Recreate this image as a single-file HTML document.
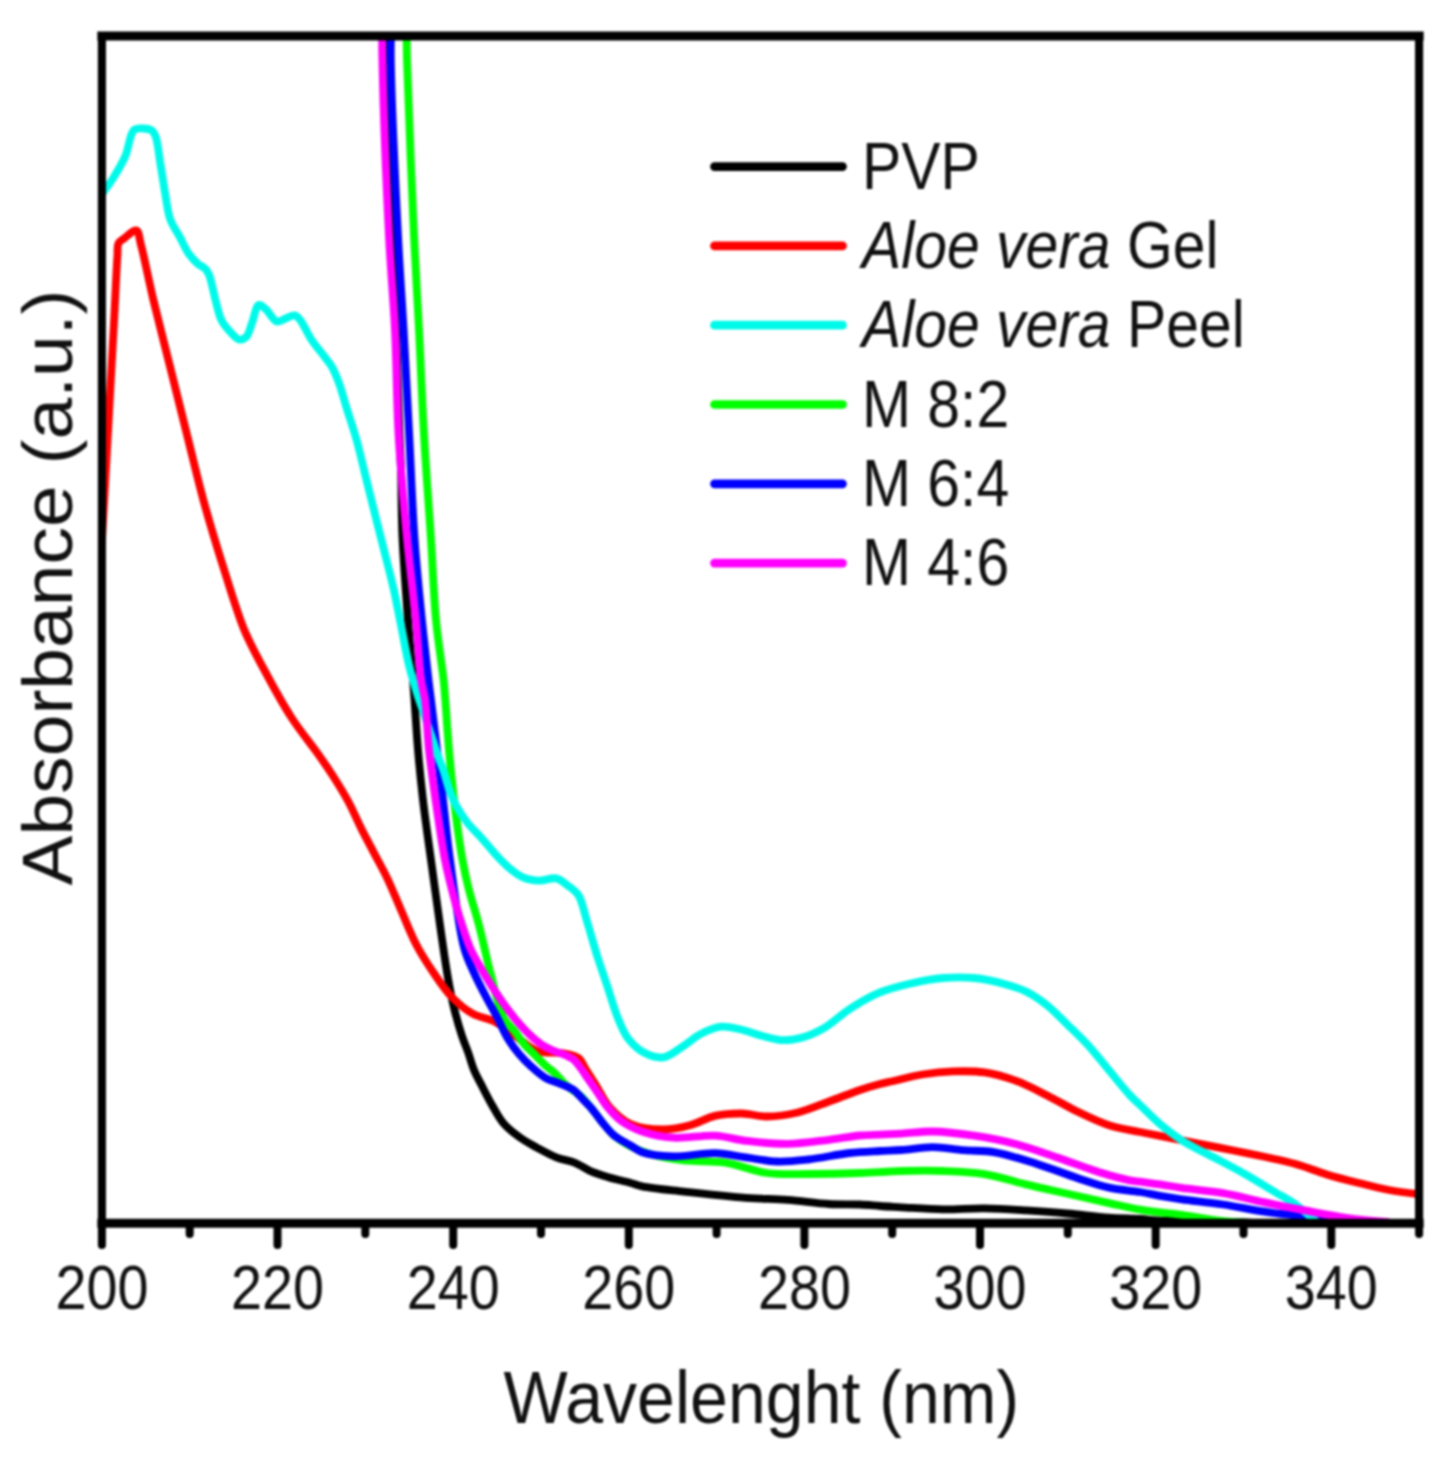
<!DOCTYPE html>
<html><head><meta charset="utf-8"><style>
html,body{margin:0;padding:0;background:#fff;}
svg{display:block;filter:blur(1px);}
text{font-family:"Liberation Sans",sans-serif;fill:#111;}
</style></head><body>
<svg width="1446" height="1484" viewBox="0 0 1446 1484">
<rect width="1446" height="1484" fill="#fff"/>
<defs><clipPath id="pa"><rect x="101.9" y="36.0" width="1317.2" height="1187.3"/></clipPath></defs>
<g fill="none" stroke-width="7.8" stroke-linejoin="round" stroke-linecap="butt" clip-path="url(#pa)">
<path d="M386.0,36.0 C386.0,36.0 387.2,74.7 388.0,100.0 C389.1,136.9 390.5,194.8 392.0,236.0 C393.2,270.2 394.8,297.8 396.0,330.0 C397.3,364.0 398.5,409.4 399.5,435.0 C400.1,449.8 400.6,456.4 401.0,470.0 C401.6,488.9 401.4,514.3 402.5,538.0 C403.7,564.1 406.1,594.8 408.0,620.0 C409.6,641.6 411.8,665.4 413.0,680.0 C413.7,688.5 413.9,691.8 414.5,700.0 C415.4,712.9 416.6,733.3 418.0,750.0 C419.4,766.7 421.0,782.6 423.0,800.0 C425.2,819.1 428.2,839.6 431.0,860.0 C433.9,881.2 437.1,904.6 440.0,925.0 C442.6,943.1 445.1,961.3 447.7,976.3 C449.7,988.0 451.5,997.4 453.9,1007.5 C456.3,1017.3 459.3,1027.9 462.0,1036.0 C464.0,1042.1 466.0,1046.5 468.0,1052.0 C470.1,1057.8 471.6,1064.1 474.0,1070.0 C476.5,1076.1 480.0,1082.1 483.0,1088.0 C486.0,1093.8 488.7,1099.3 492.0,1105.0 C495.4,1111.0 498.6,1117.6 503.2,1123.0 C507.9,1128.5 514.1,1133.3 519.8,1137.4 C525.2,1141.3 530.6,1144.1 536.4,1147.3 C542.7,1150.7 549.6,1154.7 556.3,1157.3 C562.5,1159.8 569.1,1160.4 575.1,1162.8 C580.9,1165.2 586.1,1169.3 591.7,1171.7 C597.1,1174.0 602.4,1175.5 608.3,1177.2 C615.0,1179.2 623.8,1181.0 630.0,1182.7 C634.7,1184.0 636.9,1185.3 642.2,1186.4 C651.9,1188.5 668.5,1189.9 683.7,1191.6 C702.4,1193.7 727.3,1196.4 746.0,1197.8 C761.2,1198.9 773.7,1198.9 787.5,1199.9 C801.3,1200.9 816.2,1203.3 829.0,1204.0 C840.1,1204.6 850.8,1204.1 860.0,1204.5 C867.4,1204.8 873.2,1205.5 880.0,1206.0 C887.0,1206.5 893.2,1206.8 901.5,1207.3 C913.1,1207.9 929.2,1209.1 943.0,1209.3 C956.8,1209.5 970.7,1208.1 984.5,1208.3 C998.3,1208.5 1012.2,1209.5 1026.0,1210.4 C1039.8,1211.3 1053.7,1212.3 1067.5,1213.5 C1081.3,1214.7 1096.2,1216.7 1109.0,1217.6 C1120.1,1218.4 1130.8,1218.4 1140.0,1219.0 C1147.4,1219.5 1152.1,1220.3 1160.0,1220.7 C1171.5,1221.2 1186.8,1220.8 1202.2,1221.1 C1221.0,1221.5 1246.6,1222.8 1264.5,1223.2 C1278.0,1223.5 1300.0,1223.5 1300.0,1223.5" stroke="#000000"/>
<path d="M100.8,562.0 C100.8,562.0 102.9,523.3 104.0,504.0 C105.1,484.7 106.1,465.7 107.2,446.0 C108.3,425.7 109.5,404.7 110.6,384.0 C111.7,363.3 112.9,343.0 114.0,322.0 C115.2,300.3 116.4,269.5 117.4,256.0 C117.8,250.0 117.0,246.0 118.6,243.0 C119.8,240.8 121.8,240.1 124.0,238.5 C127.2,236.1 133.5,229.5 136.3,230.5 C139.2,231.5 139.2,238.6 141.0,245.0 C144.4,257.4 148.8,280.8 153.4,300.0 C158.5,321.3 164.6,344.9 170.2,367.3 C175.8,389.8 181.4,412.2 187.0,434.7 C192.6,457.1 197.8,479.6 203.9,502.0 C210.1,524.5 217.1,547.6 224.0,569.4 C230.6,590.2 236.9,612.1 244.3,630.0 C250.6,645.1 257.1,656.5 264.5,670.4 C272.6,685.6 282.0,703.0 291.4,717.5 C300.0,730.8 310.8,743.8 318.4,754.5 C324.1,762.6 328.2,768.5 333.0,776.0 C338.1,784.0 343.3,792.2 348.0,801.0 C353.0,810.2 357.4,820.9 362.0,830.0 C366.1,838.1 369.9,845.1 374.0,853.0 C378.4,861.4 383.2,869.7 387.5,878.8 C392.2,888.6 396.3,899.3 401.0,910.0 C406.0,921.4 410.9,934.4 416.6,945.2 C421.7,955.0 427.3,963.5 433.2,972.2 C439.1,980.8 445.0,990.0 451.9,997.1 C458.2,1003.7 465.2,1009.5 472.6,1013.7 C479.7,1017.7 488.2,1018.3 495.4,1022.0 C502.8,1025.8 509.3,1031.7 516.2,1036.5 C523.1,1041.3 529.3,1048.2 536.9,1051.0 C544.5,1053.7 554.4,1051.7 561.8,1053.1 C568.0,1054.3 574.4,1055.1 578.4,1058.0 C581.7,1060.4 582.6,1064.2 585.0,1068.0 C588.1,1072.8 591.8,1078.6 595.5,1084.5 C599.7,1091.3 603.3,1100.0 609.0,1106.5 C614.9,1113.2 622.0,1120.2 630.5,1124.0 C639.8,1128.2 652.7,1129.3 663.0,1129.4 C672.4,1129.4 681.3,1127.5 690.0,1125.2 C698.6,1123.0 706.3,1117.9 714.9,1115.9 C723.6,1113.9 733.0,1113.4 741.8,1113.5 C750.3,1113.6 757.9,1116.5 766.7,1116.5 C776.5,1116.5 787.6,1114.9 797.8,1112.5 C808.3,1110.0 818.6,1105.3 829.0,1101.5 C839.4,1097.8 850.7,1093.1 860.0,1090.0 C867.4,1087.5 874.3,1085.5 880.0,1084.0 C884.2,1082.9 886.4,1082.5 891.0,1081.5 C898.7,1079.8 911.7,1076.2 922.2,1074.5 C932.5,1072.8 943.0,1071.7 953.4,1071.4 C963.8,1071.1 974.2,1070.9 984.5,1072.4 C995.0,1073.9 1005.4,1077.0 1015.6,1080.7 C1026.1,1084.5 1036.4,1090.1 1046.7,1095.2 C1057.1,1100.4 1067.3,1106.7 1077.8,1111.8 C1088.1,1116.8 1098.4,1121.9 1109.0,1125.3 C1119.2,1128.6 1129.6,1129.9 1140.0,1132.0 C1150.3,1134.1 1160.7,1136.1 1171.1,1138.1 C1181.5,1140.2 1191.8,1142.2 1202.2,1144.3 C1212.6,1146.4 1223.0,1148.4 1233.4,1150.5 C1243.8,1152.6 1254.1,1154.6 1264.5,1156.8 C1274.9,1159.1 1285.3,1161.1 1295.6,1164.0 C1306.0,1166.9 1316.3,1171.3 1326.7,1174.4 C1337.0,1177.5 1347.4,1180.1 1357.8,1182.7 C1368.2,1185.3 1378.7,1188.1 1389.0,1190.0 C1398.8,1191.8 1418.0,1194.1 1418.0,1194.1" stroke="#ff0000"/>
<path d="M406.6,36.0 C406.6,36.0 406.7,48.3 407.0,60.0 C407.9,91.6 411.7,186.5 414.0,236.0 C415.7,272.2 417.4,297.8 419.0,330.0 C420.7,364.0 422.0,400.0 424.0,435.0 C426.0,470.0 428.9,507.4 431.0,540.0 C432.8,568.5 433.7,595.3 436.0,620.0 C438.0,641.5 442.0,665.3 443.6,680.0 C444.5,688.4 444.7,691.8 445.3,700.0 C446.3,712.9 447.6,733.3 449.0,750.0 C450.5,766.7 451.9,782.6 454.0,800.0 C456.3,819.1 459.5,843.5 462.5,860.0 C464.6,871.8 466.4,879.7 469.0,890.0 C471.8,901.1 475.5,911.8 478.8,924.5 C482.9,940.0 486.9,960.0 491.3,976.3 C495.3,991.1 498.7,1008.8 503.8,1018.3 C506.9,1024.1 510.8,1026.4 514.2,1030.7 C517.7,1035.2 521.0,1040.4 524.6,1044.6 C527.9,1048.4 531.5,1051.5 535.0,1055.0 C538.4,1058.4 541.8,1062.1 545.3,1065.3 C548.7,1068.4 552.3,1070.8 555.7,1074.0 C559.2,1077.4 562.1,1081.5 566.0,1085.0 C570.3,1088.9 576.2,1092.0 580.6,1096.0 C584.8,1099.9 588.1,1104.2 591.7,1108.6 C595.5,1113.2 599.0,1118.5 602.8,1123.0 C606.4,1127.3 609.5,1131.5 613.8,1135.2 C618.5,1139.2 624.1,1142.9 630.0,1146.0 C636.2,1149.2 642.3,1151.8 650.0,1154.0 C659.7,1156.8 671.8,1159.1 683.7,1160.5 C696.8,1162.1 711.5,1160.6 725.2,1162.6 C739.1,1164.7 752.8,1171.1 766.7,1173.0 C780.4,1174.9 793.6,1174.0 808.2,1174.0 C824.5,1174.0 843.7,1173.6 860.0,1173.0 C874.6,1172.5 887.7,1171.3 901.5,1171.0 C915.3,1170.7 929.2,1170.5 943.0,1171.0 C956.8,1171.5 970.8,1171.9 984.5,1174.1 C998.4,1176.3 1012.1,1181.1 1026.0,1184.4 C1039.8,1187.7 1053.7,1190.7 1067.5,1193.8 C1081.3,1196.9 1096.2,1200.3 1109.0,1203.1 C1120.1,1205.5 1130.8,1208.1 1140.0,1209.7 C1147.4,1211.0 1153.2,1211.5 1160.0,1212.4 C1167.0,1213.3 1173.2,1213.8 1181.5,1214.9 C1193.1,1216.4 1210.1,1219.7 1223.0,1221.1 C1234.1,1222.3 1254.1,1223.2 1254.1,1223.2" stroke="#00ff00"/>
<path d="M391.0,36.0 C391.0,36.0 390.6,48.3 390.8,60.0 C391.3,91.6 395.5,186.5 398.0,236.0 C399.8,272.2 401.8,297.8 403.6,330.0 C405.5,364.0 407.4,400.2 409.2,435.0 C411.0,469.5 412.2,505.6 414.5,538.0 C416.5,566.9 419.4,594.8 421.9,620.0 C424.1,641.6 426.8,665.4 428.5,680.0 C429.5,688.5 430.0,691.8 431.0,700.0 C432.6,712.9 435.0,733.3 437.0,750.0 C439.0,766.7 440.9,782.6 443.0,800.0 C445.3,819.1 447.0,838.1 450.0,860.0 C453.7,886.7 458.7,928.4 464.3,948.5 C467.3,959.3 470.4,964.8 474.0,972.8 C477.7,981.0 482.1,989.4 486.1,997.0 C489.7,1004.0 493.4,1010.2 496.9,1016.9 C500.5,1023.7 503.5,1031.3 507.3,1037.7 C510.9,1043.6 514.8,1049.0 519.0,1054.0 C522.9,1058.7 527.1,1062.8 531.5,1066.8 C535.9,1070.8 540.5,1075.0 545.3,1077.8 C549.7,1080.4 554.6,1081.4 559.2,1083.3 C563.8,1085.3 568.9,1086.7 573.0,1089.5 C577.0,1092.3 580.1,1096.6 583.4,1099.9 C586.3,1102.9 588.8,1105.2 591.7,1108.6 C595.2,1112.7 599.0,1118.5 602.8,1123.0 C606.4,1127.3 609.5,1131.6 613.8,1135.2 C618.4,1139.1 625.0,1142.1 630.0,1145.1 C634.3,1147.7 637.0,1150.4 642.2,1152.2 C650.0,1154.9 662.2,1156.0 673.4,1156.3 C686.2,1156.7 702.1,1152.8 714.9,1153.2 C726.0,1153.5 735.6,1156.0 746.0,1157.4 C756.4,1158.8 766.7,1161.2 777.1,1161.5 C787.4,1161.8 797.1,1160.7 808.2,1159.5 C821.1,1158.1 836.9,1154.4 849.7,1153.0 C860.6,1151.8 870.8,1151.5 880.0,1151.0 C887.8,1150.6 893.7,1150.5 901.5,1150.0 C910.9,1149.3 922.2,1147.1 932.6,1147.1 C943.0,1147.1 953.3,1149.3 963.7,1150.2 C974.1,1151.1 983.9,1150.4 994.9,1152.3 C1007.8,1154.5 1022.6,1159.4 1036.3,1163.7 C1050.2,1168.0 1064.9,1174.0 1077.8,1178.2 C1088.9,1181.8 1098.5,1185.3 1109.0,1187.6 C1119.3,1189.9 1130.8,1190.5 1140.0,1192.0 C1147.4,1193.2 1153.2,1194.7 1160.0,1195.9 C1167.0,1197.1 1173.2,1198.1 1181.5,1199.3 C1193.1,1200.9 1209.2,1202.4 1223.0,1204.5 C1236.9,1206.6 1250.6,1209.6 1264.5,1211.7 C1278.3,1213.8 1293.2,1215.0 1306.0,1216.9 C1317.1,1218.5 1337.1,1222.1 1337.1,1222.1" stroke="#0000ff"/>
<path d="M102.0,194.0 C102.0,194.0 109.5,183.9 113.2,178.0 C117.3,171.4 121.9,163.9 125.3,156.1 C128.9,147.9 129.6,133.8 134.0,130.0 C136.6,127.8 140.4,128.4 143.5,128.5 C146.4,128.6 149.9,129.1 152.0,130.6 C153.9,132.0 154.6,133.8 155.7,136.7 C157.9,142.5 158.9,155.1 160.5,164.6 C162.2,174.5 163.7,185.5 165.4,195.0 C166.9,203.5 167.6,211.9 170.2,219.2 C172.6,225.9 176.9,231.5 180.0,237.4 C182.9,242.8 185.2,248.6 188.4,253.2 C191.3,257.3 194.9,261.3 198.0,264.0 C200.4,266.0 203.1,266.7 205.0,268.5 C206.7,270.2 207.7,271.7 209.0,274.6 C211.5,280.4 213.7,294.0 216.0,302.2 C217.9,308.9 218.9,315.1 221.5,320.2 C223.7,324.6 226.7,328.0 229.8,331.3 C232.8,334.5 236.4,339.1 239.5,339.6 C241.9,340.0 244.5,338.7 246.4,336.8 C249.1,334.1 250.1,327.9 252.0,323.0 C254.2,317.4 255.7,306.1 258.8,305.0 C260.8,304.3 263.4,307.2 265.8,309.2 C269.3,312.1 273.1,320.6 276.8,321.6 C279.5,322.3 282.2,319.8 285.1,318.8 C288.2,317.7 292.1,314.9 294.8,315.4 C297.0,315.8 298.4,317.8 300.3,320.2 C303.7,324.3 307.3,333.4 311.4,339.6 C315.6,345.9 321.4,352.5 325.2,357.6 C327.9,361.3 330.0,363.5 332.1,367.2 C334.7,371.7 336.8,377.2 339.0,383.0 C341.5,389.9 343.4,397.5 346.0,406.0 C349.2,416.6 353.7,429.5 357.0,441.5 C360.3,453.5 362.9,465.7 366.0,478.0 C369.1,490.7 372.4,503.9 375.6,516.7 C378.7,529.3 381.9,541.6 385.0,554.0 C388.1,566.3 391.3,578.4 394.0,590.7 C396.8,603.1 399.0,615.6 401.5,628.0 C404.0,640.3 406.2,653.7 408.9,664.8 C411.1,674.0 413.5,681.8 416.0,690.0 C418.4,697.9 421.2,705.4 423.7,713.0 C426.2,720.4 428.5,727.6 431.0,735.0 C433.5,742.4 436.2,751.0 438.5,757.4 C440.2,762.2 441.7,765.2 443.3,770.0 C445.5,776.3 447.5,785.5 450.0,792.0 C452.0,797.4 453.9,801.6 456.6,806.5 C459.6,812.0 463.5,817.8 467.7,823.1 C472.0,828.5 477.4,833.4 482.0,838.6 C486.6,843.7 490.8,849.2 495.3,854.1 C499.6,858.8 503.9,863.5 508.6,867.4 C513.1,871.2 517.8,875.1 523.0,877.3 C528.1,879.5 534.1,880.4 539.6,880.6 C545.1,880.8 551.4,877.4 556.2,878.4 C560.4,879.3 563.6,882.5 567.2,885.1 C571.0,887.9 575.3,890.4 578.3,895.0 C582.3,901.1 583.8,911.1 586.7,920.3 C590.1,931.1 593.5,944.2 597.1,955.6 C600.5,966.3 604.0,976.3 607.5,986.7 C610.9,997.1 614.0,1008.6 617.8,1017.8 C621.0,1025.6 623.6,1032.7 628.2,1038.6 C632.7,1044.4 638.7,1050.0 644.8,1053.1 C650.5,1056.0 657.4,1058.2 663.5,1057.3 C669.9,1056.4 676.1,1050.7 682.2,1046.9 C688.3,1043.1 693.6,1037.8 700.0,1034.4 C706.5,1031.0 714.0,1027.4 721.1,1026.7 C727.9,1026.0 734.9,1028.3 741.8,1029.8 C748.8,1031.4 755.6,1034.3 762.6,1036.0 C769.5,1037.7 776.4,1040.0 783.3,1040.2 C790.2,1040.4 797.3,1039.0 804.1,1037.0 C811.2,1034.9 817.8,1031.8 824.8,1027.7 C833.0,1022.9 840.8,1014.8 849.7,1009.0 C859.1,1002.9 869.5,996.7 880.0,992.4 C890.3,988.2 901.3,985.6 911.9,983.2 C922.3,980.8 932.6,978.9 943.0,978.0 C953.3,977.1 963.8,977.0 974.1,978.0 C984.5,979.0 996.0,981.7 1005.2,984.2 C1012.9,986.3 1019.3,988.2 1026.0,991.5 C1033.1,995.0 1040.0,999.7 1046.7,1005.0 C1053.9,1010.7 1060.6,1018.0 1067.5,1024.7 C1074.5,1031.5 1081.5,1038.0 1088.2,1045.4 C1095.3,1053.2 1102.1,1062.0 1109.0,1070.3 C1115.9,1078.6 1123.9,1088.7 1129.7,1095.0 C1133.6,1099.2 1136.0,1101.1 1140.0,1105.0 C1145.6,1110.3 1153.0,1118.1 1160.0,1124.0 C1166.9,1129.8 1173.5,1135.1 1181.5,1140.2 C1190.7,1146.1 1202.2,1151.3 1212.6,1156.8 C1223.0,1162.3 1233.4,1167.6 1243.7,1173.4 C1254.2,1179.3 1265.6,1186.4 1274.9,1192.0 C1282.5,1196.6 1289.3,1200.0 1295.6,1204.5 C1301.6,1208.7 1307.5,1214.4 1312.0,1218.0 C1315.1,1220.4 1320.0,1224.0 1320.0,1224.0" stroke="#00faea"/>
<path d="M382.2,36.0 C382.2,36.0 382.1,48.3 382.4,60.0 C383.1,91.6 386.5,186.5 389.0,236.0 C390.8,272.2 393.4,297.8 395.0,330.0 C396.7,364.0 396.6,400.2 398.6,435.0 C400.6,469.5 403.9,505.6 407.0,538.0 C409.7,566.9 413.4,594.8 415.8,620.0 C417.9,641.5 418.9,665.4 421.0,680.0 C422.2,688.5 423.9,691.8 425.0,700.0 C426.8,712.9 427.2,733.4 429.0,750.0 C430.8,766.7 433.1,782.6 435.6,800.0 C438.4,819.1 441.5,842.1 445.0,860.0 C447.9,874.7 451.5,888.4 454.6,900.0 C457.0,909.1 459.2,916.2 461.8,924.3 C464.4,932.4 467.1,941.1 470.3,948.5 C473.2,955.1 476.6,960.7 480.0,966.7 C483.5,972.8 487.2,978.9 491.0,984.9 C494.9,991.0 499.0,997.3 503.1,1003.1 C507.0,1008.6 510.8,1013.6 515.2,1018.9 C520.0,1024.6 525.9,1031.2 531.0,1035.9 C535.2,1039.8 539.1,1043.1 543.1,1045.6 C546.4,1047.7 549.4,1048.9 553.0,1050.5 C557.0,1052.3 562.5,1053.9 566.1,1055.5 C568.8,1056.7 570.9,1057.3 573.0,1059.0 C575.5,1061.0 577.7,1064.1 579.9,1067.0 C582.3,1070.1 584.3,1073.3 586.8,1077.0 C589.9,1081.5 593.7,1086.9 597.2,1092.0 C600.8,1097.2 604.2,1103.1 608.3,1108.0 C612.3,1112.8 616.3,1117.3 621.5,1121.1 C627.4,1125.3 634.4,1128.8 642.2,1131.5 C651.4,1134.6 662.2,1136.9 673.4,1137.7 C686.2,1138.6 702.1,1134.9 714.9,1135.6 C726.1,1136.2 734.9,1139.5 746.0,1140.8 C758.8,1142.3 773.7,1144.1 787.5,1143.9 C801.3,1143.7 816.2,1141.3 829.0,1139.8 C840.1,1138.5 850.8,1136.3 860.0,1135.5 C867.4,1134.8 873.2,1134.9 880.0,1134.6 C887.0,1134.3 893.7,1134.0 901.5,1133.6 C910.9,1133.1 921.5,1131.3 932.6,1131.5 C945.4,1131.7 960.3,1133.6 974.1,1135.7 C988.0,1137.8 1001.9,1140.4 1015.6,1144.0 C1029.5,1147.6 1043.3,1152.8 1057.1,1157.5 C1071.0,1162.2 1085.7,1168.0 1098.6,1172.0 C1109.6,1175.4 1122.1,1178.8 1129.7,1180.3 C1134.0,1181.2 1136.0,1181.2 1140.0,1181.7 C1145.6,1182.5 1153.2,1183.4 1160.0,1184.4 C1167.0,1185.4 1173.2,1186.7 1181.5,1187.9 C1193.1,1189.6 1209.2,1190.7 1223.0,1193.1 C1236.9,1195.5 1250.6,1199.5 1264.5,1202.4 C1278.3,1205.3 1292.2,1208.1 1306.0,1210.7 C1319.8,1213.3 1333.6,1216.1 1347.5,1218.0 C1361.3,1219.9 1389.0,1222.1 1389.0,1222.1" stroke="#ff00ff"/>
</g>
<g stroke="#000" stroke-linecap="square">
<line x1="101.9" y1="36.0" x2="1419.1" y2="36.0" stroke-width="9"/>
<line x1="101.9" y1="1223.3" x2="1419.1" y2="1223.3" stroke-width="9"/>
<line x1="101.9" y1="36.0" x2="101.9" y2="1223.3" stroke-width="8.1"/>
<line x1="1419.1" y1="36.0" x2="1419.1" y2="1223.3" stroke-width="8.1"/>
</g>
<g stroke="#000" stroke-width="8" stroke-linecap="round">
<line x1="101.9" y1="1223.3" x2="101.9" y2="1245.1"/>
<line x1="189.7" y1="1223.3" x2="189.7" y2="1234.1"/>
<line x1="277.5" y1="1223.3" x2="277.5" y2="1245.1"/>
<line x1="365.3" y1="1223.3" x2="365.3" y2="1234.1"/>
<line x1="453.2" y1="1223.3" x2="453.2" y2="1245.1"/>
<line x1="541.0" y1="1223.3" x2="541.0" y2="1234.1"/>
<line x1="628.8" y1="1223.3" x2="628.8" y2="1245.1"/>
<line x1="716.6" y1="1223.3" x2="716.6" y2="1234.1"/>
<line x1="804.4" y1="1223.3" x2="804.4" y2="1245.1"/>
<line x1="892.2" y1="1223.3" x2="892.2" y2="1234.1"/>
<line x1="980.0" y1="1223.3" x2="980.0" y2="1245.1"/>
<line x1="1067.8" y1="1223.3" x2="1067.8" y2="1234.1"/>
<line x1="1155.7" y1="1223.3" x2="1155.7" y2="1245.1"/>
<line x1="1243.5" y1="1223.3" x2="1243.5" y2="1234.1"/>
<line x1="1331.3" y1="1223.3" x2="1331.3" y2="1245.1"/>
<line x1="1419.1" y1="1223.3" x2="1419.1" y2="1234.1"/>
</g>
<g font-size="63">
<text x="0" y="0" text-anchor="middle" transform="translate(101.9,1309) scale(0.885,1)">200</text>
<text x="0" y="0" text-anchor="middle" transform="translate(277.5,1309) scale(0.885,1)">220</text>
<text x="0" y="0" text-anchor="middle" transform="translate(453.2,1309) scale(0.885,1)">240</text>
<text x="0" y="0" text-anchor="middle" transform="translate(628.8,1309) scale(0.885,1)">260</text>
<text x="0" y="0" text-anchor="middle" transform="translate(804.4,1309) scale(0.885,1)">280</text>
<text x="0" y="0" text-anchor="middle" transform="translate(980.0,1309) scale(0.885,1)">300</text>
<text x="0" y="0" text-anchor="middle" transform="translate(1155.7,1309) scale(0.885,1)">320</text>
<text x="0" y="0" text-anchor="middle" transform="translate(1331.3,1309) scale(0.885,1)">340</text>
</g>
<g font-size="66.5">
<line x1="714.5" y1="166.6" x2="842.5" y2="166.6" stroke="#000000" stroke-width="8.7" stroke-linecap="round"/>
<text x="0" y="0" transform="translate(862,188.6) scale(0.885,1)">PVP</text>
<line x1="714.5" y1="245.9" x2="842.5" y2="245.9" stroke="#ff0000" stroke-width="8.7" stroke-linecap="round"/>
<text x="0" y="0" transform="translate(862,267.9) scale(0.885,1)"><tspan font-style="italic">Aloe vera</tspan> Gel</text>
<line x1="714.5" y1="325.2" x2="842.5" y2="325.2" stroke="#00faea" stroke-width="8.7" stroke-linecap="round"/>
<text x="0" y="0" transform="translate(862,347.2) scale(0.885,1)"><tspan font-style="italic">Aloe vera</tspan> Peel</text>
<line x1="714.5" y1="404.5" x2="842.5" y2="404.5" stroke="#00ff00" stroke-width="8.7" stroke-linecap="round"/>
<text x="0" y="0" transform="translate(862,426.5) scale(0.885,1)">M 8:2</text>
<line x1="714.5" y1="483.8" x2="842.5" y2="483.8" stroke="#0000ff" stroke-width="8.7" stroke-linecap="round"/>
<text x="0" y="0" transform="translate(862,505.8) scale(0.885,1)">M 6:4</text>
<line x1="714.5" y1="563.1" x2="842.5" y2="563.1" stroke="#ff00ff" stroke-width="8.7" stroke-linecap="round"/>
<text x="0" y="0" transform="translate(862,585.1) scale(0.885,1)">M 4:6</text>
</g>
<text x="0" y="0" font-size="75" transform="translate(503.5,1423) scale(0.9076,1)">Wavelenght (nm)</text>
<text x="0" y="0" font-size="75" transform="translate(71.6,885.5) scale(0.94,1) rotate(-90)">Absorbance (a.u.)</text>
</svg>
</body></html>
